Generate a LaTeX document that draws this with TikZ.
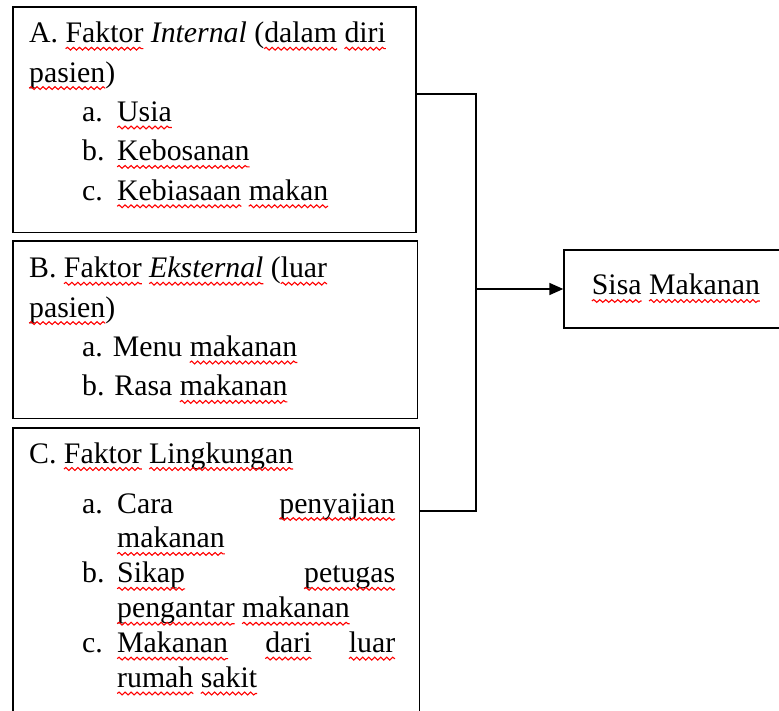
\documentclass[tikz,border=0pt]{standalone}
\usepackage{fontspec}
\setmainfont{Liberation Serif}
\usetikzlibrary{arrows.meta,positioning,decorations.pathmorphing}

% red wavy underline as in the scanned page
\newcommand{\sq}[1]{\tikz[baseline=(w.base),x=1pt,y=1pt]{\node[anchor=base,inner sep=0pt,outer sep=0pt,draw=none] (w) {#1};
  \draw[overlay,red,line width=1.1pt,decorate,decoration={snake,amplitude=1.4pt,segment length=6pt}] ([yshift=-6pt]w.base west) -- ([yshift=-6pt]w.base east);}}

\begin{document}
\begin{tikzpicture}[x=1pt, y=-1pt,
  box/.style={draw, line width=1.7pt, anchor=north west, inner sep=0pt},
  txt/.style={anchor=base west, align=left, inner sep=0pt,
    font={\fontsize{29.8}{39.4}\selectfont\lineskiplimit=-100pt}},
  line/.style={line width=1.7pt}]
\useasboundingbox (0,0) rectangle (779,711);

% factor boxes
\node [box, minimum width=403.3, minimum height=225.7] (intA) at (12,6) {};
\node [box, minimum width=404.5, minimum height=177.4] (extB) at (12,240.3) {};
\node [box, minimum width=406.7, minimum height=320] (envC) at (12,427) {};

% texts are placed by the baseline of their last line
\node [txt] (intAtext) at (29,200.3) {A. \sq{Faktor} \textit{Internal} (\sq{dalam} \sq{diri}\\
\sq{pasien})\\
\hspace*{53pt}\makebox[35pt][l]{a.}\sq{Usia}\\
\hspace*{53pt}\makebox[35pt][l]{b.}\sq{Kebosanan}\\
\hspace*{53pt}\makebox[35pt][l]{c.}\sq{Kebiasaan} \sq{makan}};

\node [txt] (extBtext) at (29,395.9) {B. \sq{Faktor} \sq{\textit{Eksternal}} (\sq{luar}\\
\sq{pasien})\\
\hspace*{53pt}a. Menu \sq{makanan}\\
\hspace*{53pt}b. Rasa \sq{makanan}};

\node [txt, font={\fontsize{29.8}{34.9}\selectfont\lineskiplimit=-100pt}] (envCtext) at (29,687.5) {C. \sq{Faktor} \sq{Lingkungan}\\[15.1pt]
\hspace*{53pt}\makebox[35pt][l]{a.}\makebox[278pt][l]{Cara\hfill\sq{penyajian}}\\
\hspace*{88pt}\sq{makanan}\\
\hspace*{53pt}\makebox[35pt][l]{b.}\makebox[278pt][l]{\sq{Sikap}\hfill\sq{petugas}}\\
\hspace*{88pt}\sq{pengantar} \sq{makanan}\\
\hspace*{53pt}\makebox[35pt][l]{c.}\makebox[278pt][l]{\sq{Makanan}\hfill\sq{dari}\hfill\sq{luar}}\\
\hspace*{88pt}\sq{rumah} \sq{sakit}};

% result box
\node [box, anchor=west, minimum width=225, minimum height=78.3] (sisa) at (563.3,289) {};
\node [txt, anchor=base] (sisatext) at (675.9,295) {\sq{Sisa} \sq{Makanan}};

% connectors
\coordinate (jtop) at (476,94);
\coordinate (jmid) at (476,289);
\coordinate (jbot) at (476,511);
\draw [line] (jtop -| intA.east) -- (jtop) -- (jbot) -- (jbot -| envC.east);
\draw [line, -{Triangle[length=14pt,width=12pt]}] (jmid) -- (sisa.west);
\end{tikzpicture}
\end{document}
